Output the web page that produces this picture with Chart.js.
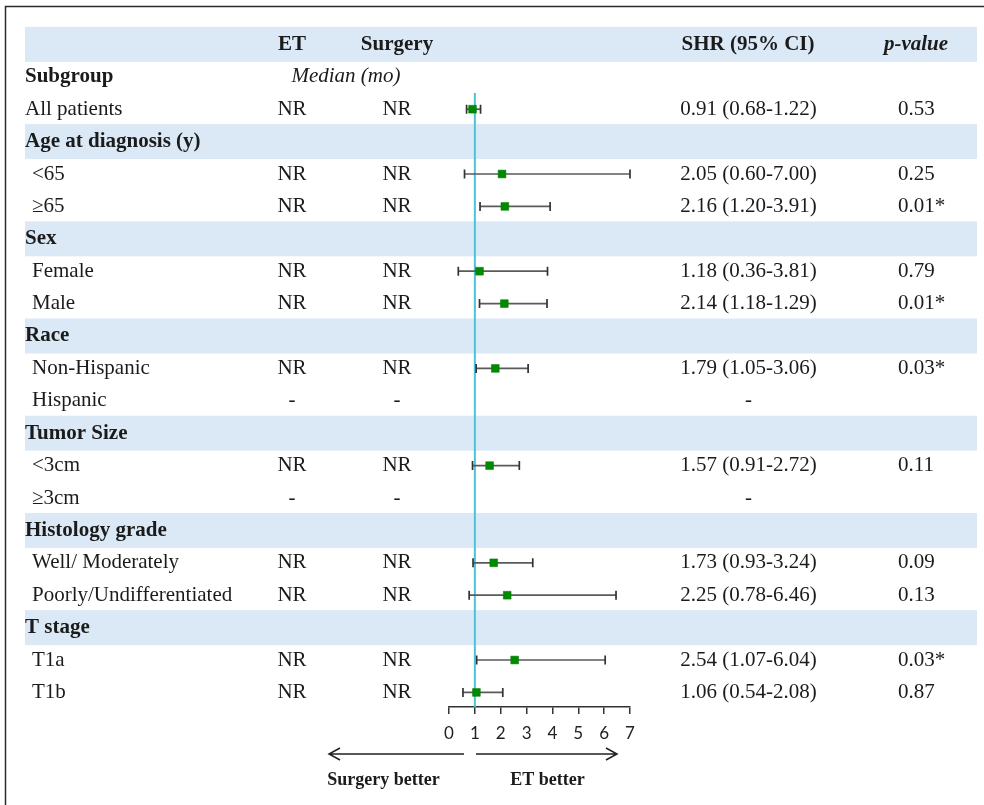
<!DOCTYPE html>
<html>
<head>
<meta charset="utf-8">
<title>Subgroup analysis – ET vs Surgery</title>
<script src="https://cdn.jsdelivr.net/npm/chart.js@4.4.1/dist/chart.umd.min.js"></script>
<style>
  html, body { margin: 0; padding: 0; background: #ffffff; }
  canvas { display: block; }
</style>
</head>
<body>
<canvas id="forest" width="984" height="805"></canvas>
<script>
// ---- table rows (top to bottom) ----
const subgroups = [
  'All patients',
  'Age at diagnosis (y)', '<65', '\u226565',
  'Sex', 'Female', 'Male',
  'Race', 'Non-Hispanic', 'Hispanic',
  'Tumor Size', '<3cm', '\u22653cm',
  'Histology grade', 'Well/ Moderately', 'Poorly/Undifferentiated',
  'T stage', 'T1a', 'T1b'
];
const isHeading = [
  false,
  true, false, false,
  true, false, false,
  true, false, false,
  true, false, false,
  true, false, false,
  true, false, false
];
const etMedian = [
  'NR',
  '', 'NR', 'NR',
  '', 'NR', 'NR',
  '', 'NR', '-',
  '', 'NR', '-',
  '', 'NR', 'NR',
  '', 'NR', 'NR'
];
const surgeryMedian = [
  'NR',
  '', 'NR', 'NR',
  '', 'NR', 'NR',
  '', 'NR', '-',
  '', 'NR', '-',
  '', 'NR', 'NR',
  '', 'NR', 'NR'
];
// subdistribution hazard ratios with 95% CI (null = no estimate)
const shr = [
  0.91,
  null, 2.05, 2.16,
  null, 1.18, 2.14,
  null, 1.79, null,
  null, 1.57, null,
  null, 1.73, 2.25,
  null, 2.54, 1.06
];
const ciLow = [
  0.68,
  null, 0.60, 1.20,
  null, 0.36, 1.18,
  null, 1.05, null,
  null, 0.91, null,
  null, 0.93, 0.78,
  null, 1.07, 0.54
];
const ciHigh = [
  1.22,
  null, 7.00, 3.91,
  null, 3.81, 3.79,
  null, 3.06, null,
  null, 2.72, null,
  null, 3.24, 6.46,
  null, 6.04, 2.08
];
const shrText = [
  '0.91 (0.68-1.22)',
  '', '2.05 (0.60-7.00)', '2.16 (1.20-3.91)',
  '', '1.18 (0.36-3.81)', '2.14 (1.18-1.29)',
  '', '1.79 (1.05-3.06)', '-',
  '', '1.57 (0.91-2.72)', '-',
  '', '1.73 (0.93-3.24)', '2.25 (0.78-6.46)',
  '', '2.54 (1.07-6.04)', '1.06 (0.54-2.08)'
];
const pValues = [
  '0.53',
  '', '0.25', '0.01*',
  '', '0.79', '0.01*',
  '', '0.03*', '',
  '', '0.11', '',
  '', '0.09', '0.13',
  '', '0.03*', '0.87'
];
const xTicks = [0, 1, 2, 3, 4, 5, 6, 7];
const nullValue = 1;

// rows 0 and 1 hold the column headings; subgroups start at row 2
const ROW0 = 2;
const SERIF = '"Liberation Serif", "Times New Roman", serif';
const INK = '#1b1b1b';

const points = [];
subgroups.forEach((s, i) => {
  if (shr[i] !== null) points.push({ x: shr[i], y: i + ROW0 });
});
const Y_TOP = 1.5, Y_BOTTOM = subgroups.length + ROW0 - 0.55;
const refLine = [{ x: nullValue, y: Y_TOP }, { x: nullValue, y: Y_BOTTOM }];

// light-blue bands behind the heading rows, plus the frame
const tableBackground = {
  id: 'tableBackground',
  beforeDraw(chart) {
    const { ctx } = chart;
    const y = chart.scales.y;
    ctx.save();
    ctx.fillStyle = '#ffffff';
    ctx.fillRect(0, 0, chart.width, chart.height);
    ctx.fillStyle = '#dbe9f6';
    const bandRows = [0];
    isHeading.forEach((h, i) => { if (h) bandRows.push(i + ROW0); });
    bandRows.forEach(r => {
      const top = y.getPixelForValue(r - 0.54);
      const bot = y.getPixelForValue(r + 0.54);
      ctx.fillRect(25, top, 952, bot - top);
    });
    ctx.strokeStyle = '#2a2a2a';
    ctx.lineWidth = 1.5;
    ctx.beginPath();
    ctx.moveTo(5.5, chart.height);
    ctx.lineTo(5.5, 6.5);
    ctx.lineTo(chart.width, 6.5);
    ctx.stroke();
    ctx.restore();
  }
};

// confidence-interval whiskers, drawn right after the reference line
const ciWhiskers = {
  id: 'ciWhiskers',
  afterDatasetDraw(chart, args) {
    if (args.index !== 1) return;
    const { ctx } = chart;
    const xs = chart.scales.x, ys = chart.scales.y;
    ctx.save();
    ctx.lineWidth = 1.7;
    subgroups.forEach((s, i) => {
      if (ciLow[i] === null) return;
      const yy = ys.getPixelForValue(i + ROW0);
      const x1 = xs.getPixelForValue(ciLow[i]);
      const x2 = xs.getPixelForValue(ciHigh[i]);
      ctx.strokeStyle = '#5a5a5a';
      ctx.beginPath();
      ctx.moveTo(x1, yy); ctx.lineTo(x2, yy);
      ctx.stroke();
      ctx.strokeStyle = '#333333';
      ctx.beginPath();
      ctx.moveTo(x1, yy - 4.5); ctx.lineTo(x1, yy + 4.5);
      ctx.moveTo(x2, yy - 4.5); ctx.lineTo(x2, yy + 4.5);
      ctx.stroke();
    });
    ctx.restore();
  }
};

// table columns, headings and the direction arrows
const tableText = {
  id: 'tableText',
  afterDraw(chart) {
    const { ctx } = chart;
    const ys = chart.scales.y;
    const font = (style) => style + ' 21px ' + SERIF;
    const put = (txt, x, row, align, style) => {
      ctx.font = font(style);
      ctx.textAlign = align;
      ctx.fillText(txt, x, ys.getPixelForValue(row));
    };
    ctx.save();
    ctx.fillStyle = INK;
    ctx.textBaseline = 'middle';

    // column headings
    put('ET', 292, 0, 'center', 'bold');
    put('Surgery', 397, 0, 'center', 'bold');
    put('SHR (95% CI)', 748, 0, 'center', 'bold');
    put('p-value', 916, 0, 'center', 'italic bold');
    put('Subgroup', 25, 1, 'left', 'bold');
    put('Median (mo)', 346, 1, 'center', 'italic');

    subgroups.forEach((s, i) => {
      const row = i + ROW0;
      if (isHeading[i]) {
        put(s, 25, row, 'left', 'bold');
        return;
      }
      put(s, i === 0 ? 25 : 32, row, 'left', 'normal');
      if (etMedian[i]) put(etMedian[i], 292, row, 'center', 'normal');
      if (surgeryMedian[i]) put(surgeryMedian[i], 397, row, 'center', 'normal');
      if (shrText[i]) put(shrText[i], 748.5, row, 'center', 'normal');
      if (pValues[i]) put(pValues[i], 898, row, 'left', 'normal');
    });

    // direction arrows under the axis
    const ay = 754;
    ctx.strokeStyle = '#222222';
    ctx.lineWidth = 1.5;
    ctx.beginPath();
    ctx.moveTo(464, ay); ctx.lineTo(329, ay);
    ctx.moveTo(340, ay - 6); ctx.lineTo(329, ay); ctx.lineTo(340, ay + 6);
    ctx.moveTo(476, ay); ctx.lineTo(617, ay);
    ctx.moveTo(606, ay - 6); ctx.lineTo(617, ay); ctx.lineTo(606, ay + 6);
    ctx.stroke();
    ctx.font = 'bold 18px ' + SERIF;
    ctx.textAlign = 'center';
    ctx.fillText('Surgery better', 383.5, 780);
    ctx.fillText('ET better', 547.5, 780);
    ctx.restore();
  }
};

new Chart(document.getElementById('forest'), {
  data: {
    datasets: [
      {
        type: 'scatter',
        label: 'SHR',
        data: points,
        order: 0,
        pointStyle: 'rect',
        pointRadius: 5.5,
        pointHoverRadius: 5.5,
        backgroundColor: '#008a00',
        borderColor: '#007a00',
        borderWidth: 0.5
      },
      {
        type: 'line',
        label: 'SHR = 1',
        data: refLine,
        order: 1,
        borderColor: '#4cc3d6',
        borderWidth: 2,
        pointRadius: 0,
        fill: false
      }
    ]
  },
  options: {
    responsive: false,
    animation: false,
    devicePixelRatio: 1,
    layout: { padding: { left: 449, right: 354, top: 93, bottom: 58 } },
    plugins: {
      legend: { display: false },
      tooltip: { enabled: false },
      title: { display: false }
    },
    scales: {
      x: {
        type: 'linear',
        position: 'bottom',
        min: xTicks[0],
        max: xTicks[xTicks.length - 1],
        afterBuildTicks(scale) { scale.ticks = xTicks.map(v => ({ value: v })); },
        afterFit(scale) { scale.height = 40; },
        grid: {
          drawOnChartArea: false,
          drawTicks: true,
          tickLength: 7,
          color: '#333333',
          lineWidth: 1.5
        },
        border: { display: true, color: '#333333', width: 1.5 },
        ticks: {
          padding: 9,
          color: '#222222',
          font: { family: 'Lato, "Liberation Sans", sans-serif', size: 17 },
          callback: v => String(v)
        }
      },
      y: {
        type: 'linear',
        display: false,
        reverse: true,
        min: Y_TOP,
        max: Y_BOTTOM
      }
    }
  },
  plugins: [tableBackground, ciWhiskers, tableText]
});
</script>
</body>
</html>
